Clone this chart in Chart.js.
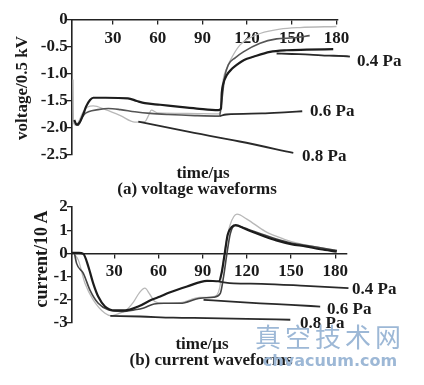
<!DOCTYPE html>
<html>
<head>
<meta charset="utf-8">
<script src="https://cdn.jsdelivr.net/npm/chart.js@4"></script>
<style>
  body { margin:0; background:#fff; }
  #wrap { position:relative; width:424px; height:385px; overflow:hidden; }
  canvas { position:absolute; left:0; top:0; }
  .t { position:absolute; transform:translate(-50%,-50%); white-space:nowrap;
       font-family:"Liberation Serif", "DejaVu Serif", serif; color:#1a1a1a; font-size:17px; font-weight:bold; }
  .lab { position:absolute; white-space:nowrap; font-family:"Liberation Serif", serif;
         font-weight:bold; font-size:17px; color:#1a1a1a; transform:translateY(-50%); }
  .rot { transform:translate(-50%,-50%) rotate(-90deg); }
  .wm { position:absolute; color:#9db8d6; white-space:nowrap; transform:translate(-50%,-50%); }
</style>
</head>
<body>
<div id="wrap">
  <canvas id="voltChart" width="424" height="385"></canvas>
  <canvas id="currChart" width="424" height="385"></canvas>

  <div class="t rot" style="left:22px;top:88px;">voltage/0.5 kV</div>
  <div class="t" style="left:203px;top:173px;">time/μs</div>
  <div class="t" style="left:197px;top:189px;">(a) voltage waveforms</div>
  <div class="lab" style="left:357px;top:61px;">0.4 Pa</div>
  <div class="lab" style="left:310px;top:111px;">0.6 Pa</div>
  <div class="lab" style="left:302px;top:156px;">0.8 Pa</div>

  <div class="t rot" style="left:41px;top:259px;font-size:18px;">current/10 A</div>
  <div class="t" style="left:202px;top:344px;">time/μs</div>
  <div class="t" style="left:211px;top:360px;">(b) current waveforms</div>
  <div class="lab" style="left:352px;top:289px;">0.4 Pa</div>
  <div class="lab" style="left:327px;top:309px;">0.6 Pa</div>
  <div class="lab" style="left:300px;top:323px;">0.8 Pa</div>

  <div class="wm" style="left:330px;top:335px;font-family:'Noto Sans CJK SC';font-size:26px;letter-spacing:4px;">真空技术网</div>
  <div class="wm" style="left:330px;top:360px;font-family:'DejaVu Sans';font-weight:bold;font-size:16px;">chvacuum.com</div>
</div>

<script>
// tick values
const xTicks = [30, 60, 90, 120, 150, 180];
const voltTicks = [0, -0.5, -1.0, -1.5, -2.0, -2.5];
const currTicks = [2, 1, 0, -1, -2, -3];

// voltage waveforms [time µs, voltage /0.5 kV]
const volt04 = [[4,-1.85],[5.6,-1.94],[8,-1.88],[10,-1.75],[12,-1.6],[14.6,-1.48],[16.8,-1.44],[25,-1.44],[40,-1.45],[46,-1.5],[51.4,-1.54],[61.7,-1.57],[75,-1.61],[86.3,-1.64],[100.7,-1.67],[102.5,-1.64],[103,-1.35],[104,-1.18],[106.4,-1.02],[110,-0.9],[113,-0.83],[118,-0.74],[124.2,-0.68],[135.4,-0.59],[146.5,-0.56],[160,-0.55],[177.8,-0.54]];
const volt04Lead = [[139.8,-0.62],[150,-0.63],[162,-0.64],[175,-0.66],[189,-0.68],[191,-0.71]];
const volt06 = [[4.5,-1.9],[6.5,-1.95],[9,-1.82],[11,-1.74],[13.5,-1.70],[20,-1.66],[26.9,-1.64],[35,-1.66],[44.7,-1.70],[55,-1.73],[67,-1.75],[85,-1.77],[101.5,-1.78],[103,-1.5],[105,-1.05],[107.4,-0.83],[112,-0.7],[117.5,-0.59],[128.7,-0.43],[139.8,-0.35],[151,-0.33],[162,-0.29]];
const volt06Lead = [[101.5,-1.78],[106,-1.75],[130,-1.73],[145,-1.71],[157,-1.69]];
const volt08 = [[3.2,-1.1],[3.5,-1.9],[5,-1.95],[7,-1.88],[10,-1.7],[13,-1.61],[16.8,-1.59],[25,-1.66],[35,-1.77],[44.7,-1.89],[51.4,-1.88],[54,-1.76],[55.7,-1.67],[60,-1.72],[80,-1.73],[101,-1.74],[102.5,-1.6],[103.5,-1.2],[106.4,-0.89],[110,-0.68],[115.3,-0.46],[121,-0.34],[128.7,-0.25],[142,-0.17],[155.4,-0.14],[180,-0.12]];
const volt08Lead = [[47,-1.88],[77,-2.05],[115,-2.25],[151,-2.46]];

// current waveforms [time µs, current /10 A]
const curr04 = [[1.3,0.02],[6,0.02],[9,-0.02],[12.4,-0.57],[15.7,-1.29],[19.1,-1.86],[23.7,-2.29],[30.5,-2.46],[37.3,-2.46],[46.3,-2.29],[55.3,-2.0],[61.2,-1.86],[67,-1.7],[79.4,-1.43],[92.9,-1.18],[101,-1.2],[103,-0.8],[105,0],[107,0.8],[110,1.15],[112.5,1.22],[118,1.08],[125,0.9],[132.5,0.72],[140,0.56],[150,0.4],[160,0.3],[170,0.18],[181,0.08]];
const curr04Lead = [[101,-1.22],[111,-1.29],[130,-1.31],[160,-1.4],[189,-1.5]];
const curr06 = [[3,0],[4.4,-0.43],[9,-0.86],[13.5,-1.58],[19.1,-2.15],[25.9,-2.43],[35,-2.5],[44,-2.43],[50,-2.35],[57,-2.18],[63.5,-2.15],[74.8,-2.15],[88.4,-1.93],[97.4,-1.89],[102,-1.72],[104.2,-1.0],[106.5,0],[108.8,0.86],[112.2,1.2],[118,1.1],[124.6,0.95],[132.5,0.78],[140,0.62],[150,0.45],[165,0.3],[181.2,0.12]];
const curr06Lead = [[90.6,-2.0],[110,-2.08],[129,-2.15],[150,-2.22],[169.8,-2.29]];
const curr08 = [[2.5,0],[5.6,-0.29],[10.1,-1.29],[15.7,-2.0],[23.7,-2.58],[28.2,-2.69],[32,-2.62],[38,-2.45],[43,-2.1],[47,-1.7],[50.8,-1.5],[54,-1.75],[57.6,-2.08],[63,-2.15],[75,-2.12],[88,-1.9],[98,-1.85],[101.5,-1.5],[103.5,-0.6],[105.5,0.3],[108.5,1.2],[113.3,1.69],[120,1.48],[132.5,0.95],[145,0.62],[155,0.43],[170,0.25],[180,0.14]];
const curr08Lead = [[27.3,-2.69],[47.7,-2.72],[70,-2.77],[92.9,-2.79],[120,-2.82],[149.5,-2.86]];

const pts = a => a.map(p => ({x:p[0], y:p[1]}));
const serif = '"Liberation Serif", "DejaVu Serif", serif';

function line(data, color, width, order) {
    return {
        data: pts(data),
        borderColor: color,
        borderWidth: width,
        pointRadius: 0,
        showLine: true,
        fill: false,
        cubicInterpolationMode: "monotone",
        clip: false,
        order: order
    };
}

function makeChart(id, datasets, xMin, xMax, yMin, yMax, yTicks, pad, fmt) {
    return new Chart(document.getElementById(id), {
        type: "scatter",
        data: { datasets: datasets },
        options: {
            responsive: false,
            animation: false,
            devicePixelRatio: 1,
            layout: { padding: pad },
            plugins: { legend: { display: false }, tooltip: { enabled: false } },
            scales: {
                x: {
                    type: "linear",
                    min: xMin, max: xMax,
                    position: { y: 0 },
                    afterBuildTicks: s => { s.ticks = xTicks.map(v => ({ value: v })); },
                    grid: { drawOnChartArea: false, tickLength: 4, color: "#222", lineWidth: 1.3 },
                    border: { color: "#222", width: 1.6 },
                    ticks: { color: "#1a1a1a", padding: 4, autoSkip: false, maxRotation: 0,
                             font: { family: serif, size: 17, weight: "bold" } }
                },
                y: {
                    type: "linear",
                    min: yMin, max: yMax,
                    position: { x: xMin },
                    afterBuildTicks: s => { s.ticks = yTicks.map(v => ({ value: v })); },
                    grid: { drawOnChartArea: false, tickLength: 4, color: "#222", lineWidth: 1.3 },
                    border: { color: "#222", width: 1.6 },
                    ticks: { color: "#1a1a1a", autoSkip: false,
                             font: { family: serif, size: 17, weight: "bold" },
                             callback: v => fmt(v) + " " }
                }
            }
        }
    });
}

// ==========================
// (a) voltage
// ==========================
makeChart("voltChart", [
    line(volt04, "#1c1c1c", 2.2, 1),
    line(volt04Lead, "#2a2a2a", 1.8, 2),
    line(volt06, "#555", 1.6, 3),
    line(volt06Lead, "#2a2a2a", 1.8, 4),
    line(volt08Lead, "#2a2a2a", 1.8, 5),
    line(volt08, "#b8b8b8", 1.3, 6)
], 2.5, 181, -2.5, 0, voltTicks, { left: 72, right: 86, top: 20, bottom: 230 },
   v => v === 0 ? "0" : v.toFixed(1));

// ==========================
// (b) current
// ==========================
makeChart("currChart", [
    line(curr04, "#1c1c1c", 2.2, 1),
    line(curr04Lead, "#2a2a2a", 1.8, 2),
    line(curr06, "#444", 1.6, 3),
    line(curr06Lead, "#2a2a2a", 1.8, 4),
    line(curr08Lead, "#2a2a2a", 1.8, 5),
    line(curr08, "#b8b8b8", 1.3, 6)
], 1.3, 188, -3, 2, currTicks, { left: 72, right: 77, top: 207, bottom: 62 },
   v => String(v));
</script>
</body>
</html>
